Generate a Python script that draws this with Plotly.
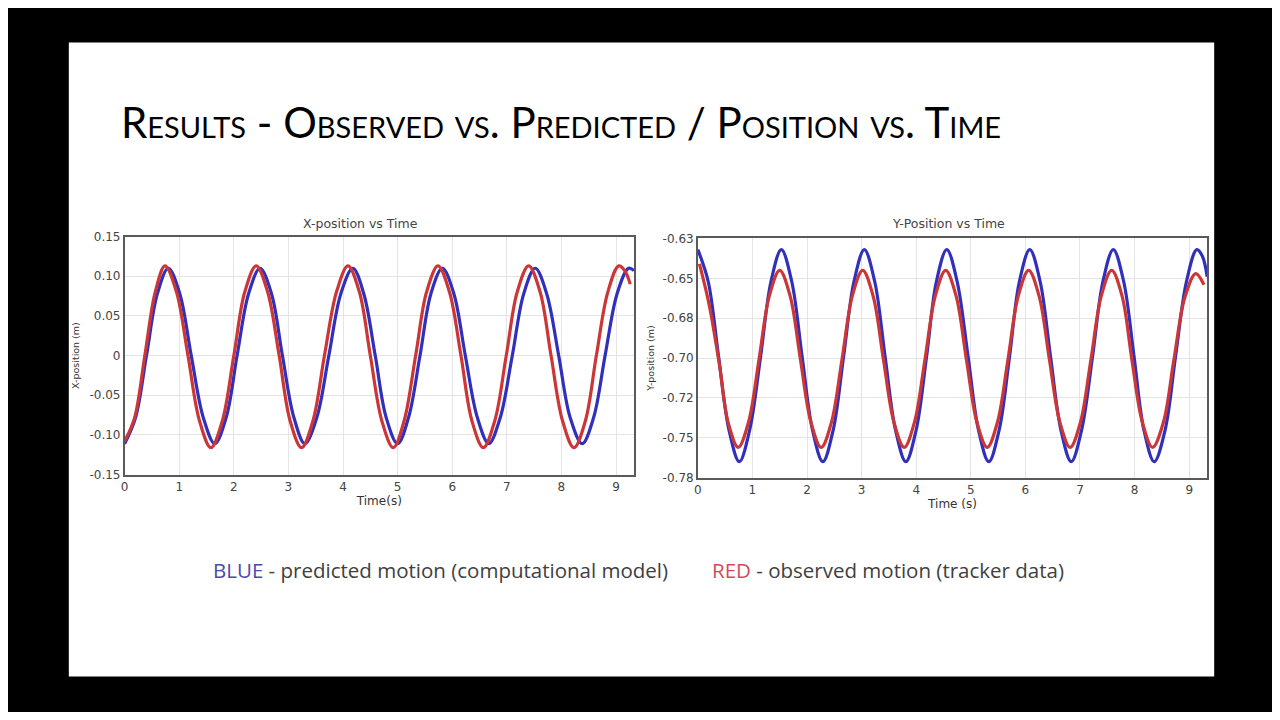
import plotly.graph_objects as go

# ---- X-position vs Time ----
x_pred_t = [0.0, 0.20, 0.40, 0.60, 0.80, 1.01, 1.22, 1.44, 1.65, 1.86, 2.06, 2.27,
            2.48, 2.69, 2.89, 3.10, 3.30, 3.52, 3.74, 3.96, 4.18, 4.38, 4.59, 4.79,
            5.00, 5.20, 5.41, 5.61, 5.82, 6.03, 6.24, 6.46, 6.67, 6.88, 7.10, 7.31,
            7.52, 7.73, 7.95, 8.16, 8.38, 8.59, 8.80, 9.02, 9.23, 9.33]
x_pred = [-0.111, -0.078, 0.0, 0.078, 0.110, 0.078, 0.0, -0.078,
          -0.111, -0.078, 0.0, 0.078, 0.110, 0.078, 0.0, -0.078,
          -0.111, -0.078, 0.0, 0.078, 0.110, 0.078, 0.0, -0.078,
          -0.111, -0.078, 0.0, 0.078, 0.110, 0.078, 0.0, -0.078,
          -0.111, -0.078, 0.0, 0.078, 0.110, 0.078, 0.0, -0.078,
          -0.111, -0.078, 0.0, 0.078, 0.110, 0.107]

x_obs_t = [0.0, 0.18, 0.37, 0.56, 0.74, 0.95, 1.16, 1.37, 1.58, 1.79, 2.00, 2.20,
           2.41, 2.62, 2.83, 3.03, 3.24, 3.45, 3.66, 3.88, 4.09, 4.30, 4.50, 4.71,
           4.92, 5.12, 5.33, 5.53, 5.74, 5.95, 6.16, 6.36, 6.57, 6.78, 6.99, 7.19,
           7.40, 7.61, 7.81, 8.02, 8.23, 8.44, 8.64, 8.85, 9.05, 9.16, 9.26]
x_obs = [-0.108, -0.079, 0.0, 0.080, 0.113, 0.080, 0.0, -0.082,
         -0.116, -0.082, 0.0, 0.080, 0.113, 0.080, 0.0, -0.082,
         -0.116, -0.082, 0.0, 0.080, 0.113, 0.080, 0.0, -0.082,
         -0.116, -0.082, 0.0, 0.080, 0.113, 0.080, 0.0, -0.082,
         -0.116, -0.082, 0.0, 0.080, 0.113, 0.080, 0.0, -0.082,
         -0.116, -0.082, 0.0, 0.080, 0.113, 0.107, 0.090]

# ---- Y-position vs Time ----
y_pred_t = [0.0, 0.19, 0.38, 0.57, 0.76, 0.95, 1.15, 1.34, 1.53, 1.72, 1.91, 2.10,
            2.29, 2.48, 2.67, 2.86, 3.05, 3.24, 3.43, 3.62, 3.81, 4.00, 4.19, 4.37,
            4.56, 4.75, 4.95, 5.14, 5.33, 5.52, 5.71, 5.89, 6.08, 6.27, 6.46, 6.65,
            6.84, 7.03, 7.23, 7.42, 7.61, 7.80, 7.99, 8.17, 8.36, 8.56, 8.75, 8.95,
            9.14, 9.24, 9.33]
y_pred = [-0.637, -0.657, -0.704, -0.750, -0.770, -0.750, -0.704, -0.657,
          -0.637, -0.657, -0.704, -0.750, -0.770, -0.750, -0.704, -0.657,
          -0.637, -0.657, -0.704, -0.750, -0.770, -0.750, -0.704, -0.657,
          -0.637, -0.657, -0.704, -0.750, -0.770, -0.750, -0.704, -0.657,
          -0.637, -0.657, -0.704, -0.750, -0.770, -0.750, -0.704, -0.657,
          -0.637, -0.657, -0.704, -0.750, -0.770, -0.750, -0.704, -0.657,
          -0.637, -0.641, -0.654]

y_obs_t = [0.03, 0.21, 0.39, 0.56, 0.74, 0.93, 1.12, 1.31, 1.50, 1.69, 1.88, 2.07,
           2.26, 2.45, 2.64, 2.83, 3.02, 3.21, 3.40, 3.59, 3.78, 3.97, 4.16, 4.35,
           4.54, 4.73, 4.92, 5.11, 5.30, 5.49, 5.68, 5.87, 6.06, 6.25, 6.44, 6.63,
           6.82, 7.01, 7.20, 7.39, 7.58, 7.77, 7.95, 8.14, 8.33, 8.53, 8.72, 8.92,
           9.12, 9.27]
y_obs = [-0.646, -0.672, -0.708, -0.746, -0.761, -0.745, -0.706, -0.666,
         -0.650, -0.666, -0.706, -0.745, -0.761, -0.745, -0.706, -0.666,
         -0.650, -0.666, -0.706, -0.745, -0.761, -0.745, -0.706, -0.666,
         -0.650, -0.666, -0.706, -0.745, -0.761, -0.745, -0.706, -0.666,
         -0.650, -0.666, -0.706, -0.745, -0.761, -0.745, -0.706, -0.666,
         -0.650, -0.666, -0.706, -0.745, -0.761, -0.745, -0.706, -0.667,
         -0.652, -0.659]

x_ticks = [-0.15, -0.10, -0.05, 0, 0.05, 0.10, 0.15]
x_tick_text = ["-0.15", "-0.10", "-0.05", "0", "0.05", "0.10", "0.15"]
y_ticks = [-0.78, -0.755, -0.73, -0.705, -0.68, -0.655, -0.63]
y_tick_text = ["-0.78", "-0.75", "-0.72", "-0.70", "-0.68", "-0.65", "-0.63"]
time_ticks = list(range(10))

BLUE = "#3030bc"
RED = "#cc3636"
# the page body keeps an 8px margin, so the figure is shrunk to fit the window
OFF = 8
W, H = 1280 - 2 * OFF, 720 - 2 * OFF


def px(x):
    return (x - OFF) / W


def py(y):
    return 1 - (y - OFF) / H


fig = go.Figure()

for t, v, c, xa, ya in [
    (x_pred_t, x_pred, BLUE, "x", "y"),
    (x_obs_t, x_obs, RED, "x", "y"),
    (y_pred_t, y_pred, BLUE, "x2", "y2"),
    (y_obs_t, y_obs, RED, "x2", "y2"),
]:
    fig.add_trace(
        go.Scatter(
            x=t, y=v, mode="lines",
            line=dict(color=c, width=3.2, shape="spline", smoothing=1.0),
            xaxis=xa, yaxis=ya, showlegend=False, hoverinfo="skip",
        )
    )

axis_style = dict(
    showgrid=True, gridcolor="#e4e4e4", gridwidth=1,
    showline=True, mirror=True, linecolor="#5a5a5a", linewidth=1.5,
    zeroline=False, ticks="",
    tickfont=dict(family="DejaVu Sans", size=12, color="#444"),
    title_font=dict(family="DejaVu Sans", size=12, color="#333"),
)

fig.update_layout(
    width=W, height=H,
    margin=dict(l=0, r=0, t=0, b=0),
    paper_bgcolor="black",
    plot_bgcolor="white",
    xaxis=dict(axis_style, domain=[px(121), px(632)], range=[0, 9.33],
               tickvals=time_ticks, title_text="Time(s)", title_standoff=2, anchor="y"),
    yaxis=dict(axis_style, domain=[py(477), py(234)], range=[-0.15, 0.15],
               tickvals=x_ticks, ticktext=x_tick_text,
               title_text="X-position (m)", title_standoff=8, anchor="x",
               title_font_size=9.5),
    xaxis2=dict(axis_style, domain=[px(696), px(1207)], range=[0, 9.33],
                tickvals=time_ticks, title_text="Time (s)", title_standoff=2, anchor="y2"),
    yaxis2=dict(axis_style, domain=[py(480), py(236)], range=[-0.78, -0.63],
                tickvals=y_ticks, ticktext=y_tick_text,
                title_text="Y-position (m)", title_standoff=6, anchor="x2",
                title_font_size=9.5),
    shapes=[
        # white slide
        dict(type="rect", xref="paper", yref="paper", layer="below",
             x0=px(65), x1=px(1214), y0=py(683), y1=py(36),
             fillcolor="white", line_width=0),
    ],
)

# slide title
fig.add_annotation(
    xref="paper", yref="paper", x=px(115), y=py(117), xanchor="left", yanchor="middle",
    text="Results - Observed vs. Predicted / Position vs. Time", showarrow=False,
    font=dict(family="Lato", size=42, color="black", variant="small-caps"),
)

# chart titles
for x, txt in [(358, "X-position vs Time"), (947, "Y-Position vs Time")]:
    fig.add_annotation(
        xref="paper", yref="paper", x=px(x), y=py(221), xanchor="center", yanchor="middle",
        text=txt, showarrow=False,
        font=dict(family="DejaVu Sans", size=12.5, color="#444"),
    )

# caption
fig.add_annotation(
    xref="paper", yref="paper", x=px(208), y=py(574), xanchor="left", yanchor="middle",
    text="<span style='color:#4b4ba8'>BLUE</span> - predicted motion (computational model)",
    showarrow=False, font=dict(family="Open Sans", size=20.5, color="#404040"),
)
fig.add_annotation(
    xref="paper", yref="paper", x=px(708), y=py(574), xanchor="left", yanchor="middle",
    text="<span style='color:#d64a5a'>RED</span> - observed motion (tracker data)",
    showarrow=False, font=dict(family="Open Sans", size=20.5, color="#404040"),
)

fig.write_html("out.html")
